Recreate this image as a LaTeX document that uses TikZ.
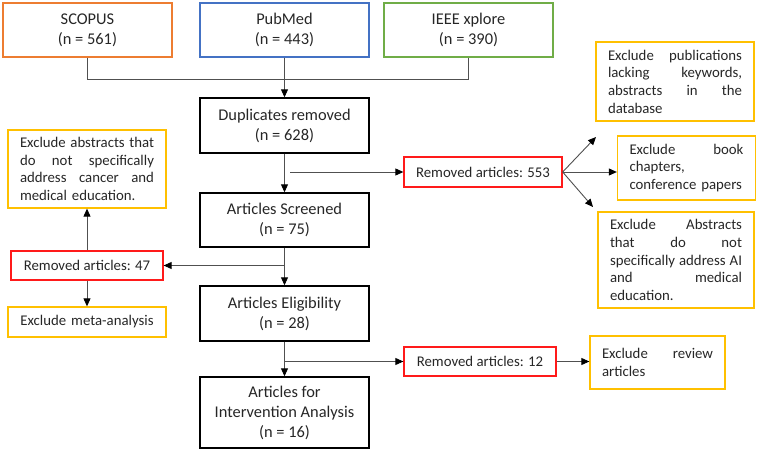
\documentclass[tikz,border=0pt]{standalone}
\usepackage{fontspec}
\setmainfont{Carlito}
\usetikzlibrary{arrows.meta}
\definecolor{orangec}{HTML}{ED7D31}
\definecolor{bluec}{HTML}{4472C4}
\definecolor{greenc}{HTML}{70AD47}
\definecolor{yelc}{HTML}{FFC000}
\definecolor{redc}{HTML}{FF1A1A}
\definecolor{linec}{HTML}{505050}
\definecolor{txtc}{HTML}{262626}
\begin{document}
\begin{tikzpicture}[x=1pt,y=-1pt,
  every node/.style={text=txtc},
  blk/.style={draw=black, line width=1.4pt, minimum width=169pt, minimum height=54pt, align=center, inner sep=0pt, font=\fontsize{16.4}{20}\selectfont},
  src/.style={blk, line width=1.3pt},
  rbox/.style={draw=redc, line width=1.3pt, minimum height=29pt, inner sep=0pt, font=\fontsize{14.8}{17.7}\selectfont},
  ybox/.style={draw=yelc, line width=1.3pt, inner xsep=12pt, inner ysep=0pt, align=left, font=\fontsize{14.8}{17.7}\selectfont},
  arr/.style={draw=linec, line width=0.9pt, -{Triangle[length=8pt,width=7pt,color=black]}},
  ln/.style={draw=linec, line width=0.9pt}
]
\useasboundingbox (0,0) rectangle (760,452);

% sources
\node[src, draw=orangec] (scopus) at (87.5,30) {SCOPUS\\(n = 561)};
\node[src, draw=bluec] (pubmed) at (284.5,30) {PubMed\\(n = 443)};
\node[src, draw=greenc] (ieee) at (468.5,30) {IEEE xplore\\(n = 390)};

% main column
\node[blk, minimum height=55pt] (dup) at (284.5,125.5) {Duplicates removed\\(n = 628)};
\node[blk] (scr) at (284.5,220) {Articles Screened\\(n = 75)};
\node[blk, minimum height=55pt] (elig) at (284.5,313.5) {Articles Eligibility\\(n = 28)};
\node[blk, minimum height=71pt] (interv) at (284.5,412.5) {Articles for\\Intervention Analysis\\(n = 16)};

% removed boxes
\node[rbox, minimum width=158pt, minimum height=30pt] (r553) at (483,172) {Removed articles: 553};
\node[rbox, minimum width=152pt] (r47) at (87,265.5) {Removed articles: 47};
\node[rbox, minimum width=152pt] (r12) at (480,361.5) {Removed articles: 12};

% exclusion boxes
\node[ybox, text width=134pt, minimum height=79pt] (y1) at (675,81.5)
  {Exclude\hfill publications\\lacking\hfill keywords,\\abstracts\hfill in\hfill the\\database};
\node[ybox, text width=114pt, minimum height=64pt] (y2) at (686.5,168)
  {Exclude\hfill book\\chapters,\\conference papers};
\node[ybox, text width=132pt, minimum height=96pt] (y3) at (676,260)
  {Exclude\hfill Abstracts\\that\hfill do\hfill not\\specifically\hfill address\hfill AI\\and\hfill medical\\education.};
\node[ybox, text width=134pt, minimum height=78pt] (yl) at (87,169)
  {Exclude\hfill abstracts\hfill that\\do\hfill not\hfill specifically\\address\hfill cancer\hfill and\\medical education.};
\node[ybox, text width=134pt, minimum height=30pt, align=center] (ym) at (87,322)
  {Exclude meta-analysis};
\node[ybox, text width=111pt, minimum height=53pt] (yr) at (657.5,362.5)
  {Exclude\hfill review\\articles};

% connectors: sources
\coordinate (jy) at (0,79);
\draw[ln] (scopus.south) |- (jy -| ieee.south) -- (ieee.south);
\draw[arr] (pubmed.south) -- (dup.north);

% main flow
\draw[arr] (dup.south) -- (scr.north);
\draw[arr] (scr.south) -- (elig.north);
\draw[arr] (elig.south) -- (interv.north);

% branch 553
\coordinate (b1) at (290,172);
\draw[arr] (b1) -- (r553.west);
\coordinate (e1) at (596,137);
\coordinate (e3) at (593,207);
\draw[arr] (r553.east) -- (e1);
\draw[arr] (r553.east) -- (r553.east -| y2.west);
\draw[arr] (r553.east) -- (e3);

% branch 47
\coordinate (b2) at (284.5,265.5);
\draw[arr] (b2) -- (r47.east);
\draw[arr] (r47.north) -- (yl.south);
\draw[arr] (r47.south) -- (ym.north);

% branch 12
\coordinate (b3) at (284.5,361.5);
\draw[arr] (b3) -- (r12.west);
\draw[arr] (r12.east) -- (r12.east -| yr.west);
\end{tikzpicture}
\end{document}
